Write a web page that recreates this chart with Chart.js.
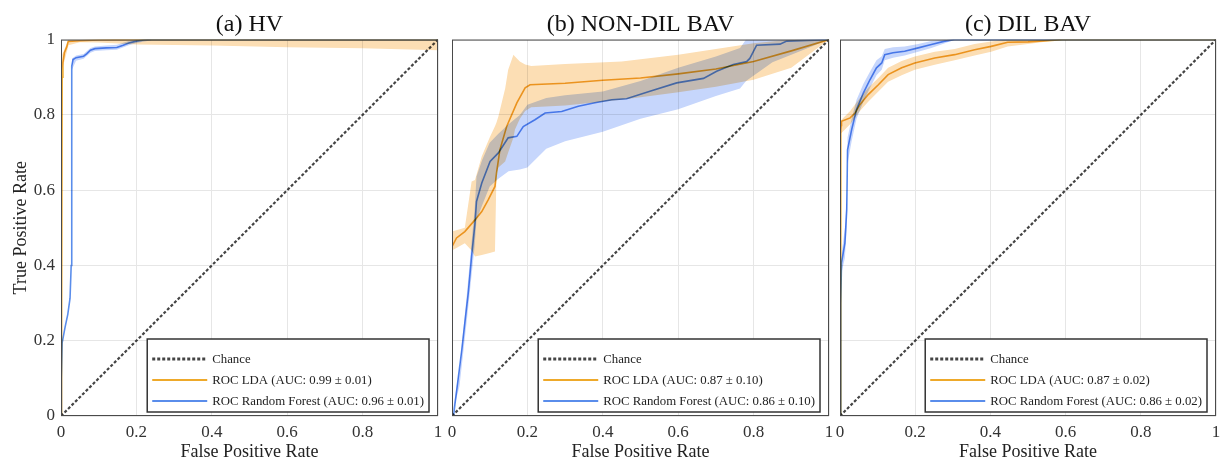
<!DOCTYPE html>
<html>
<head>
<meta charset="utf-8">
<script src="https://cdn.jsdelivr.net/npm/chart.js@4.4.1/dist/chart.umd.min.js"></script>
<style>
html, body { margin: 0; padding: 0; background: #fff; }
#wrap { position: relative; width: 1220px; height: 461px; }
#wrap canvas { position: absolute; left: 0; top: 0; }
</style>
</head>
<body>
<div id="wrap">
<canvas id="roc-a" width="1220" height="461"></canvas>
<canvas id="roc-b" width="1220" height="461"></canvas>
<canvas id="roc-c" width="1220" height="461"></canvas>
</div>
<script>
// ---- data ----
const ticks = [0, 0.2, 0.4, 0.6, 0.8, 1];
const chanceFpr = [0, 1];
const chanceTpr = [0, 1];

// (a) HV
const aFprLDA = [0, 0.001, 0.002, 0.003, 0.005, 0.009, 0.015, 0.019, 0.05, 0.1, 0.2, 1];
const aTprLDA = [0, 0.06, 0.2, 0.9, 0.939, 0.965, 0.98, 0.995, 0.997, 0.999, 1, 1];
const aBandFprLDA = [0.003, 0.02, 0.05, 0.1, 0.2, 0.4, 0.6, 0.8, 1];
const aBandLoLDA = [0.92, 0.985, 0.993, 0.992, 0.987, 0.984, 0.98, 0.977, 0.972];
const aBandHiLDA = [0.96, 1, 1, 1, 1, 1, 1, 1, 1];
const aFprRF = [0, 0.001, 0.003, 0.011, 0.018, 0.024, 0.027, 0.028, 0.029, 0.032, 0.04, 0.06, 0.068, 0.078, 0.09, 0.12, 0.148, 0.165, 0.18, 0.2, 0.22, 0.24, 1];
const aTprRF = [0, 0.1, 0.194, 0.237, 0.27, 0.313, 0.4, 0.6, 0.93, 0.947, 0.952, 0.956, 0.962, 0.972, 0.976, 0.978, 0.979, 0.985, 0.991, 0.996, 0.999, 1, 1];
const aBandFprRF = [0.029, 0.04, 0.06, 0.078, 0.09, 0.12, 0.148, 0.18, 0.2, 0.24];
const aBandLoRF = [0.92, 0.944, 0.949, 0.965, 0.97, 0.972, 0.973, 0.985, 0.991, 0.998];
const aBandHiRF = [0.95, 0.958, 0.962, 0.978, 0.982, 0.984, 0.986, 0.996, 1, 1];

// (b) NON-DIL BAV
const bFprLDA = [0, 0, 0.012, 0.034, 0.061, 0.079, 0.096, 0.114, 0.118, 0.127, 0.145, 0.172, 0.194, 0.207, 0.3, 0.4, 0.5, 0.6, 0.7, 0.8, 0.9, 1];
const bTprLDA = [0, 0.45, 0.473, 0.49, 0.521, 0.543, 0.574, 0.61, 0.645, 0.707, 0.769, 0.832, 0.872, 0.88, 0.884, 0.892, 0.898, 0.909, 0.922, 0.942, 0.97, 1];
const bBandFprLDA = [0, 0.034, 0.052, 0.061, 0.079, 0.1, 0.114, 0.118, 0.123, 0.141, 0.149, 0.163, 0.167, 0.18, 0.194, 0.21, 0.3, 0.45, 0.6, 0.7, 0.8, 0.9, 1];
const bBandHiLDA = [0.49, 0.5, 0.623, 0.627, 0.69, 0.74, 0.77, 0.78, 0.796, 0.87, 0.92, 0.96, 0.955, 0.942, 0.934, 0.93, 0.935, 0.942, 0.96, 0.975, 0.99, 1, 1];
const bBandLoLDA = [0.44, 0.459, 0.44, 0.424, 0.428, 0.433, 0.437, 0.645, 0.66, 0.676, 0.7, 0.74, 0.761, 0.79, 0.81, 0.82, 0.825, 0.84, 0.86, 0.875, 0.893, 0.925, 1];
const bFprRF = [0, 0.004, 0.017, 0.026, 0.034, 0.043, 0.052, 0.061, 0.065, 0.079, 0.101, 0.123, 0.149, 0.172, 0.189, 0.22, 0.247, 0.291, 0.335, 0.379, 0.424, 0.463, 0.525, 0.596, 0.667, 0.702, 0.746, 0.782, 0.79, 0.808, 0.87, 0.888, 1];
const bTprRF = [0, 0, 0.105, 0.176, 0.247, 0.326, 0.424, 0.512, 0.57, 0.619, 0.676, 0.699, 0.739, 0.743, 0.769, 0.787, 0.805, 0.809, 0.823, 0.832, 0.84, 0.843, 0.863, 0.885, 0.897, 0.916, 0.934, 0.942, 0.95, 0.985, 0.988, 0.996, 1];
const bBandFprRF = [0, 0.02, 0.04, 0.06, 0.065, 0.08, 0.1, 0.123, 0.15, 0.18, 0.2, 0.25, 0.3, 0.4, 0.5, 0.6, 0.7, 0.764, 0.78, 0.85, 0.9, 1];
const bBandHiRF = [0, 0.13, 0.33, 0.55, 0.636, 0.68, 0.726, 0.75, 0.775, 0.8, 0.827, 0.845, 0.852, 0.862, 0.89, 0.925, 0.955, 0.978, 1, 1, 1, 1];
const bBandLoRF = [0, 0.08, 0.26, 0.45, 0.52, 0.56, 0.61, 0.63, 0.65, 0.655, 0.66, 0.71, 0.73, 0.755, 0.79, 0.815, 0.85, 0.87, 0.89, 0.94, 0.96, 1];

// (c) DIL BAV
const cFprLDA = [0, 0.002, 0.003, 0.004, 0.027, 0.04, 0.053, 0.075, 0.102, 0.128, 0.164, 0.199, 0.252, 0.305, 0.358, 0.402, 0.446, 0.5, 0.592, 1];
const cTprLDA = [0, 0.76, 0.772, 0.783, 0.792, 0.805, 0.827, 0.854, 0.88, 0.907, 0.925, 0.938, 0.951, 0.96, 0.973, 0.982, 0.993, 0.994, 1, 1];
const cBandFprLDA = [0.002, 0.027, 0.053, 0.075, 0.102, 0.128, 0.164, 0.199, 0.252, 0.305, 0.358, 0.402, 0.446, 0.5, 0.592];
const cBandLoLDA = [0.75, 0.775, 0.81, 0.835, 0.862, 0.888, 0.905, 0.92, 0.933, 0.945, 0.958, 0.968, 0.982, 0.988, 1];
const cBandHiLDA = [0.785, 0.81, 0.845, 0.872, 0.898, 0.925, 0.943, 0.955, 0.968, 0.975, 0.988, 0.995, 1, 1, 1];
const cFprRF = [0, 0.002, 0.004, 0.013, 0.018, 0.02, 0.031, 0.044, 0.062, 0.08, 0.097, 0.111, 0.119, 0.141, 0.172, 0.208, 0.243, 0.279, 0.305, 1];
const cTprRF = [0, 0.3, 0.407, 0.459, 0.548, 0.707, 0.761, 0.814, 0.858, 0.894, 0.925, 0.938, 0.96, 0.965, 0.969, 0.978, 0.987, 0.996, 1, 1];
const cBandFprRF = [0.004, 0.013, 0.018, 0.02, 0.031, 0.044, 0.062, 0.08, 0.097, 0.111, 0.119, 0.141, 0.172, 0.208, 0.243, 0.279, 0.305];
const cBandLoRF = [0.38, 0.42, 0.5, 0.67, 0.73, 0.79, 0.835, 0.872, 0.905, 0.92, 0.945, 0.952, 0.958, 0.968, 0.978, 0.99, 1];
const cBandHiRF = [0.43, 0.5, 0.6, 0.74, 0.79, 0.84, 0.882, 0.915, 0.945, 0.956, 0.975, 0.98, 0.982, 0.988, 0.996, 1, 1];

const titles = ['(a) HV', '(b) NON-DIL BAV', '(c) DIL BAV'];
const ldaLabels = ['ROC LDA (AUC: 0.99 \u00b1 0.01)', 'ROC LDA (AUC: 0.87 \u00b1 0.10)', 'ROC LDA (AUC: 0.87 \u00b1 0.02)'];
const rfLabels = ['ROC Random Forest (AUC: 0.96 \u00b1 0.01)', 'ROC Random Forest (AUC: 0.86 \u00b1 0.10)', 'ROC Random Forest (AUC: 0.86 \u00b1 0.02)'];

// ---- styling ----
const serif = '"Liberation Serif", "DejaVu Serif", serif';
const ORANGE = '#EEA92A';
const BLUE = '#5A8DEB';
const ORANGE_BAND = 'rgb(252,222,180)';
const BLUE_BAND = 'rgb(198,214,252)';
const CLEAR = 'rgba(0,0,0,0)';

const pts = (xs, ys) => xs.map((x, i) => ({ x: x, y: ys[i] }));
const tickText = v => String(+(+v).toFixed(1));

// bands overlap -> multiply gives the greyish mix seen in the figure
const multiplyFills = {
	id: 'multiplyFills',
	beforeDatasetsDraw(chart) {
		chart.ctx.save();
		chart.ctx.globalCompositeOperation = 'multiply';
	},
	afterDatasetsDraw(chart) {
		chart.ctx.restore();
	}
};

const boxAndLegend = {
	id: 'boxAndLegend',
	afterDraw(chart) {
		const { ctx, chartArea } = chart;
		ctx.save();
		ctx.strokeStyle = '#4a4a4a';
		ctx.lineWidth = 1;
		ctx.strokeRect(chartArea.left + 0.5, chartArea.top + 0.5, chartArea.width - 1, chartArea.height - 1);

		const items = chart.data.datasets.filter(d => d.inLegend);
		ctx.font = '12.8px ' + serif;
		const textW = Math.max(...items.map(d => ctx.measureText(d.label).width));
		const w = 65 + textW + 5, h = 73;
		const x = chartArea.right - 9 - w, y = chartArea.bottom - 4 - h;
		ctx.fillStyle = '#fff';
		ctx.fillRect(x, y, w, h);
		ctx.strokeStyle = '#333';
		ctx.lineWidth = 1.5;
		ctx.strokeRect(x, y, w, h);
		items.forEach((d, i) => {
			const ly = y + 20 + i * 21;
			ctx.beginPath();
			ctx.setLineDash(d.borderDash || []);
			ctx.strokeStyle = d.borderColor;
			ctx.lineWidth = d.borderDash ? 3 : 2;
			ctx.moveTo(x + 5, ly);
			ctx.lineTo(x + 60, ly);
			ctx.stroke();
			ctx.setLineDash([]);
			ctx.fillStyle = '#222';
			ctx.textBaseline = 'middle';
			ctx.fillText(d.label, x + 65, ly + 1);
		});
		ctx.restore();
	}
};

function rocChart(id, idx, left, right, showY, lda, rf) {
	return new Chart(document.getElementById(id), {
		type: 'scatter',
		data: {
			datasets: [{
				label: 'Chance',
				inLegend: true,
				data: pts(chanceFpr, chanceTpr),
				showLine: true,
				borderColor: '#444',
				borderWidth: 2.2,
				borderDash: [3, 2],
				pointRadius: 0
			}, {
				label: ldaLabels[idx],
				inLegend: true,
				data: pts(lda[0], lda[1]),
				showLine: true,
				borderColor: ORANGE,
				borderWidth: 1.6,
				pointRadius: 0
			}, {
				label: rfLabels[idx],
				inLegend: true,
				data: pts(rf[0], rf[1]),
				showLine: true,
				borderColor: BLUE,
				borderWidth: 1.6,
				pointRadius: 0
			}, {
				label: 'LDA upper',
				data: pts(lda[2], lda[4]),
				showLine: true,
				fill: '+1',
				backgroundColor: ORANGE_BAND,
				borderColor: CLEAR,
				borderWidth: 0,
				pointRadius: 0
			}, {
				label: 'LDA lower',
				data: pts(lda[2], lda[3]),
				showLine: true,
				borderColor: CLEAR,
				borderWidth: 0,
				pointRadius: 0
			}, {
				label: 'RF upper',
				data: pts(rf[2], rf[4]),
				showLine: true,
				fill: '+1',
				backgroundColor: BLUE_BAND,
				borderColor: CLEAR,
				borderWidth: 0,
				pointRadius: 0
			}, {
				label: 'RF lower',
				data: pts(rf[2], rf[3]),
				showLine: true,
				borderColor: CLEAR,
				borderWidth: 0,
				pointRadius: 0
			}]
		},
		options: {
			responsive: false,
			animation: false,
			devicePixelRatio: 1,
			layout: { padding: { left: left - 61, right: 1220 - right, top: 0, bottom: 0 } },
			plugins: {
				legend: { display: false },
				tooltip: { enabled: false },
				title: {
					display: true,
					text: titles[idx],
					fullSize: false,
					color: '#111',
					font: { family: serif, size: 24, weight: 'normal', lineHeight: 1.15 },
					padding: { top: 11, bottom: 1 }
				}
			},
			scales: {
				x: {
					type: 'linear',
					min: 0,
					max: 1,
					afterFit: s => { s.height = 45; s.paddingLeft = 0; s.paddingRight = 0; },
					afterBuildTicks: s => { s.ticks = ticks.map(v => ({ value: v })); },
					grid: { color: '#e6e6e6', drawTicks: false },
					border: { display: false },
					ticks: {
						color: '#333',
						padding: 6,
						maxRotation: 0,
						autoSkip: false,
						callback: tickText,
						font: { family: serif, size: 17 }
					},
					title: {
						display: true,
						text: 'False Positive Rate',
						color: '#222',
						padding: { top: 0, bottom: 0 },
						font: { family: serif, size: 18, lineHeight: 1 }
					}
				},
				y: {
					type: 'linear',
					min: 0,
					max: 1,
					afterFit: s => { s.width = 61; },
					afterBuildTicks: s => { s.ticks = ticks.map(v => ({ value: v })); },
					grid: { color: '#e6e6e6', drawTicks: false },
					border: { display: false },
					ticks: {
						display: showY,
						color: '#333',
						padding: 6,
						callback: tickText,
						font: { family: serif, size: 17 }
					},
					title: {
						display: showY,
						text: 'True Positive Rate',
						color: '#222',
						padding: { top: 10, bottom: 0 },
						font: { family: serif, size: 18 }
					}
				}
			}
		},
		plugins: [multiplyFills, boxAndLegend]
	});
}

rocChart('roc-a', 0, 61, 438, true,
	[aFprLDA, aTprLDA, aBandFprLDA, aBandLoLDA, aBandHiLDA],
	[aFprRF, aTprRF, aBandFprRF, aBandLoRF, aBandHiRF]);
rocChart('roc-b', 1, 452, 829, false,
	[bFprLDA, bTprLDA, bBandFprLDA, bBandLoLDA, bBandHiLDA],
	[bFprRF, bTprRF, bBandFprRF, bBandLoRF, bBandHiRF]);
rocChart('roc-c', 2, 840, 1216, false,
	[cFprLDA, cTprLDA, cBandFprLDA, cBandLoLDA, cBandHiLDA],
	[cFprRF, cTprRF, cBandFprRF, cBandLoRF, cBandHiRF]);
</script>
</body>
</html>
